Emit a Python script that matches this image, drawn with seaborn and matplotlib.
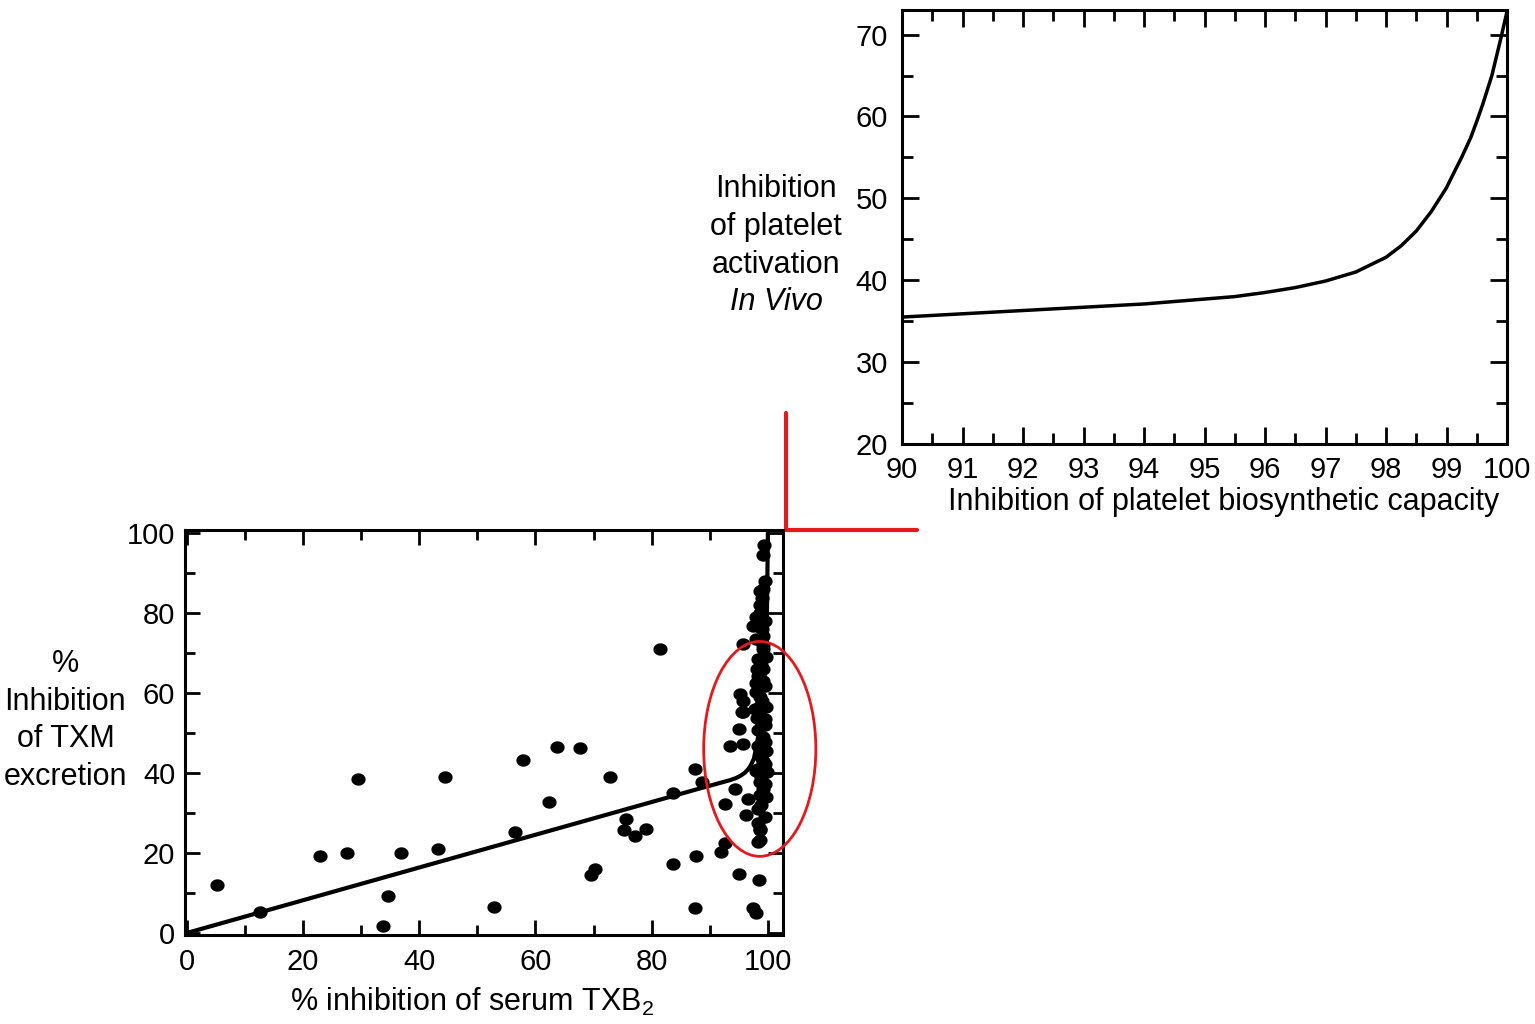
import numpy as np
import matplotlib
matplotlib.use("Agg")
import matplotlib.pyplot as plt
from matplotlib.path import Path
from matplotlib.patches import Ellipse
from matplotlib.ticker import MultipleLocator
import seaborn as sns

# Scatter: % inhibition of serum TXB2 vs % inhibition of TXM excretion
serum_txb2 = [5.2, 12.6, 22.9, 27.5, 29.4, 34.7, 33.7, 36.9, 43.2, 44.5,
              52.8, 56.4, 57.8, 62.4, 63.7, 67.6, 69.6, 70.3, 72.8, 75.5,
              75.3, 77.2, 79.1, 81.4, 83.7, 83.6, 87.4, 87.6, 87.4, 88.7,
              94.3, 92.6, 92.6, 92.0, 95.1, 98.5, 97.5, 98.0, 96.6, 96.3,
              95.7, 95.2, 95.7, 95.7, 95.5, 95.0, 93.4, 95.7, 97.5, 98.0,
              97.8, 98.3, 98.6, 98.3, 98.6, 98.3, 98.6, 98.3, 98.6, 98.3,
              99.3, 99.1, 98.9, 99.0, 98.6, 99.0, 99.2, 98.3, 99.2, 98.3,
              99.5, 98.0, 99.0, 99.5, 98.6, 98.6, 99.5, 98.3, 98.0, 99.5,
              98.9, 98.3, 99.8, 98.6, 99.5, 98.3, 99.2, 98.6, 99.5, 98.9,
              99.5, 98.6, 99.2, 98.9, 99.2, 98.6, 99.5, 99.2, 98.9, 99.2,
              98.9, 99.2, 98.9, 99.5, 98.6, 99.2, 97.9, 99.6, 98.2, 99.6,
              98.2, 99.6, 98.0, 99.6]
txm_excretion = [12.0, 5.2, 19.2, 20.1, 38.6, 9.2, 1.7, 19.9, 21.0, 39.1,
                 6.5, 25.2, 43.2, 32.8, 46.5, 46.2, 14.4, 16.0, 38.9, 28.5,
                 25.7, 24.3, 26.1, 71.0, 17.2, 35.1, 40.9, 19.3, 6.3, 37.8,
                 36.1, 32.3, 22.4, 20.3, 14.7, 13.3, 6.2, 5.0, 33.6, 29.4,
                 72.1, 59.7, 58.0, 55.1, 55.1, 51.0, 46.8, 47.3, 76.7, 73.4,
                 56.0, 31.1, 25.7, 27.4, 34.4, 22.8, 37.7, 41.0, 56.8, 50.6,
                 96.9, 94.5, 85.4, 83.8, 80.0, 75.9, 70.9, 68.4, 65.9, 64.3,
                 61.8, 60.1, 58.0, 53.5, 53.1, 55.6, 47.7, 46.8, 40.5, 37.3,
                 44.0, 41.0, 40.2, 23.3, 42.2, 76.8, 85.9, 85.5, 88.0, 79.3,
                 78.0, 82.0, 72.0, 67.0, 63.0, 59.0, 52.0, 49.0, 45.0, 43.0,
                 39.0, 36.0, 32.0, 29.0, 26.0, 74.3, 62.5, 69.0, 53.8, 56.5,
                 66.0, 45.5, 79.0, 34.0]

# Fitted curve, lower panel
fit_x = [0, 88, 92, 93.5, 94.5, 95.3, 96, 96.6, 97.1, 97.6, 98, 98.5, 99,
         99.5, 99.8, 100]
fit_y = [0, 36.0, 37.6, 38.2, 38.7, 39.3, 40.0, 40.9, 42.0, 43.6, 46.5, 50.5,
         56.0, 65.0, 75.0, 100]

# Model curve, upper panel
capacity = [90, 91, 92, 93, 94, 95, 95.5, 96, 96.5, 97, 97.5, 98, 98.25,
            98.5, 98.75, 99, 99.1, 99.25, 99.4, 99.5, 99.6, 99.75, 99.9, 100]
activation = [35.5, 35.9, 36.3, 36.7, 37.1, 37.7, 38.0, 38.5, 39.1, 39.9,
              41.0, 42.8, 44.2, 46.0, 48.4, 51.3, 52.8, 55.0, 57.4, 59.4,
              61.5, 65.0, 69.6, 72.8]

sns.set_style("ticks")
plt.rcParams['font.family'] = ['Liberation Sans', 'DejaVu Sans']
plt.rcParams['mathtext.default'] = 'regular'
plt.rcParams['text.color'] = 'black'
plt.rcParams['axes.labelcolor'] = 'black'
plt.rcParams['xtick.color'] = 'black'
plt.rcParams['ytick.color'] = 'black'

fig = plt.figure(figsize=(15.35, 10.24), dpi=100)
ax1 = fig.add_axes([185 / 1535, 89 / 1024, 598 / 1535, 405 / 1024])
ax2 = fig.add_axes([902 / 1535, 580 / 1024, 605 / 1535, 434 / 1024])

# slightly flattened dot marker
t = np.linspace(0, 2 * np.pi, 41)
dot = Path(np.column_stack([1.15 * np.cos(t), np.sin(t)]))

sns.scatterplot(x=serum_txb2, y=txm_excretion, ax=ax1, color='black',
                marker=dot, s=105, linewidth=0, zorder=3)
sns.lineplot(x=fit_x, y=fit_y, ax=ax1, color='black', linewidth=3, sort=False,
             zorder=2)
ax1.set_xlim(-0.3, 102.6)
ax1.set_ylim(-0.5, 100.7)
ax1.xaxis.set_major_locator(MultipleLocator(20))
ax1.xaxis.set_minor_locator(MultipleLocator(10))
ax1.yaxis.set_major_locator(MultipleLocator(20))
ax1.yaxis.set_minor_locator(MultipleLocator(10))
ax1.set_xlabel('% inhibition of serum TXB$_2$', fontsize=22)
ax1.xaxis.set_label_coords(0.48, -0.125)
ax1.set_ylabel('%\nInhibition\nof TXM\nexcretion', fontsize=22, rotation=0,
               ha='center', va='center', linespacing=1.33)
ax1.yaxis.set_label_coords(-0.2, 0.53)

sns.lineplot(x=capacity, y=activation, ax=ax2, color='black', linewidth=2.5)
ax2.set_xlim(90, 100)
ax2.set_ylim(20, 73)
ax2.xaxis.set_major_locator(MultipleLocator(1))
ax2.xaxis.set_minor_locator(MultipleLocator(0.5))
ax2.yaxis.set_major_locator(MultipleLocator(10))
ax2.yaxis.set_minor_locator(MultipleLocator(5))
ax2.set_xlabel('Inhibition of platelet biosynthetic capacity', fontsize=22)
ax2.xaxis.set_label_coords(0.532, -0.1)
ax2.set_ylabel('')
ax2.text(-0.208, 0.5, 'Inhibition\nof platelet\nactivation', transform=ax2.transAxes,
         fontsize=22, ha='center', va='center', linespacing=1.33)
ax2.text(-0.208, 0.327, 'In Vivo', transform=ax2.transAxes, fontsize=22,
         style='italic', ha='center', va='center')

for ax in (ax1, ax2):
    for s in ax.spines.values():
        s.set_visible(True)
        s.set_linewidth(2.2)
        s.set_color('black')
    ax.tick_params(which='both', direction='in', top=True, right=True,
                   width=2, color='black', labelsize=21)
ax1.tick_params(which='major', length=11)
ax1.tick_params(which='minor', length=7)
ax1.tick_params(axis='x', pad=9)
ax1.tick_params(axis='y', pad=7)
ax2.tick_params(which='major', length=12)
ax2.tick_params(which='minor', length=8)
ax2.tick_params(axis='x', pad=9)
ax2.tick_params(axis='y', pad=10)

# red annotations: ellipse round the steep part, and the zoom corner
ax1.add_patch(Ellipse((98.6, 46), 19.3, 53.7, fill=False, edgecolor='#e31a1c',
                      linewidth=2, clip_on=False, zorder=4))
ax1.plot([103.1, 103.1, 125.6], [130, 100.7, 100.7], color='#e31a1c',
         linewidth=3, clip_on=False)

fig.savefig('out.png', dpi=100)
